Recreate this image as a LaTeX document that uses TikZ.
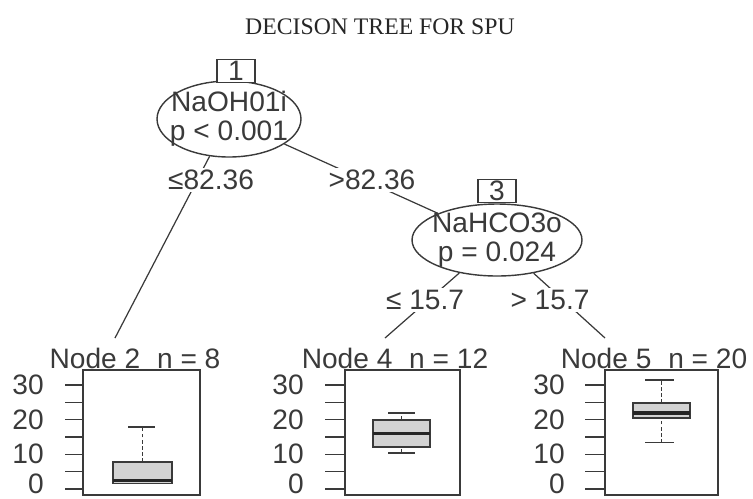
\documentclass[tikz,border=0pt]{standalone}
\usepackage{fontspec}
\setmainfont{Liberation Serif}
\setsansfont{Liberation Sans}
\usetikzlibrary{shapes.geometric}

\definecolor{ink}{HTML}{3A3A3A}
\definecolor{boxgrey}{HTML}{D3D3D3}
\newcommand{\plotfont}{\sffamily\fontsize{16}{16.5}\selectfont}

\tikzset{
  splitnode/.style={ellipse, draw=ink, line width=0.8pt, fill=white, inner sep=0pt},
  splitlab/.style={align=center, inner sep=0pt, text=ink, font=\plotfont},
  idbox/.style={draw=ink, line width=0.8pt, fill=white, minimum width=0.76cm, minimum height=0.46cm, inner sep=0pt, text=ink, font=\plotfont},
  branch/.style={draw=ink, line width=0.7pt},
  edgelab/.style={fill=white, inner sep=1pt, text=ink, font=\plotfont},
  termtitle/.style={inner sep=0pt, text=ink, font=\plotfont},
  ticklab/.style={anchor=east, inner sep=0pt, text=ink, font=\plotfont},
  panelbox/.style={draw=ink, line width=0.85pt},
  tickline/.style={draw=ink, line width=0.8pt},
  bxbody/.style={draw=ink, fill=boxgrey, line width=0.7pt},
  bxmedian/.style={draw=black!85, line width=1.8pt},
  bxwhisk/.style={draw=ink, line width=0.7pt, dash pattern=on 2pt off 1.5pt},
  bxcap/.style={draw=ink, line width=0.7pt}
}

\begin{document}
\begin{tikzpicture}[x=0.02cm,y=-0.02cm]
\useasboundingbox (0,0) rectangle (753,498);
\clip (0,0) rectangle (753,498);

\node[font=\rmfamily\fontsize{13.5}{13.5}\selectfont, text=black!85] (title) at (380,27) {DECISON TREE FOR SPU};

% inner nodes
\node[splitnode, minimum width=2.88cm, minimum height=1.52cm,
      label={[splitlab]center:{NaOH01i\\p < 0.001}}] (n1) at (229,119) {};
\node[idbox] (id1) at (236,71) {1};
\node[splitnode, minimum width=3.4cm, minimum height=1.44cm,
      label={[splitlab]center:{NaHCO3o\\p = 0.024}}] (n3) at (497,240) {};
\node[idbox] (id3) at (497,191) {3};

% tops of the terminal panels
\coordinate (top2) at (115,338);
\coordinate (top4) at (385,338);
\coordinate (top5) at (605,338);

\draw[branch] (n1) -- (top2);
\draw[branch] (n1) -- (n3);
\draw[branch] (n3) -- (top4);
\draw[branch] (n3) -- (top5);

\node[edgelab] (e2) at (211,180) {≤82.36};
\node[edgelab] (e3) at (372,180) {>82.36};
\node[edgelab] (e4) at (425,300) {≤ 15.7};
\node[edgelab] (e5) at (550,300) {> 15.7};

% Node 2
\node[termtitle] (t2) at (135,358) {Node 2\hspace{0.6em}n = 8};
\draw[panelbox] (83,370) rectangle (200,495);
\begin{scope}[shift={(0,489)}, y=0.0694cm]
\foreach \v in {0,5,...,30} \draw[tickline] (65,\v) -- (83,\v);
\foreach \v/\h in {0/1.4,10/10,20/20,30/30} \node[ticklab] (a2-\v) at (44,\h) {\v};
\draw[bxwhisk] (142.5,7.8) -- (142.5,17.9);
\draw[bxcap] (128,17.9) -- (155,17.9);
\draw[bxbody] (113,1.7) rectangle (172,7.8);
\draw[bxmedian] (113,2.4) -- (172,2.4);
\end{scope}

% Node 4
\node[termtitle] (t4) at (395,358) {Node 4\hspace{0.6em}n = 12};
\draw[panelbox] (345,370) rectangle (460,495);
\begin{scope}[shift={(0,489)}, y=0.0694cm]
\foreach \v in {0,5,...,30} \draw[tickline] (325,\v) -- (345,\v);
\foreach \v/\h in {0/1.4,10/10,20/20,30/30} \node[ticklab] (a4-\v) at (304,\h) {\v};
\draw[bxwhisk] (401.5,19.9) -- (401.5,21.9);
\draw[bxwhisk] (401.5,10.4) -- (401.5,12.1);
\draw[bxcap] (388,21.9) -- (415,21.9);
\draw[bxcap] (388,10.4) -- (415,10.4);
\draw[bxbody] (373,12.1) rectangle (430,19.9);
\draw[bxmedian] (373,16.1) -- (430,16.1);
\end{scope}

% Node 5
\node[termtitle] (t5) at (654,358) {Node 5\hspace{0.6em}n = 20};
\draw[panelbox] (605,370) rectangle (718,495);
\begin{scope}[shift={(0,489)}, y=0.0694cm]
\foreach \v in {0,5,...,30} \draw[tickline] (585,\v) -- (605,\v);
\foreach \v/\h in {0/1.4,10/10,20/20,30/30} \node[ticklab] (a5-\v) at (565,\h) {\v};
\draw[bxwhisk] (661.5,24.8) -- (661.5,31.4);
\draw[bxwhisk] (661.5,13.3) -- (661.5,20.5);
\draw[bxcap] (645,31.4) -- (674,31.4);
\draw[bxcap] (645,13.3) -- (674,13.3);
\draw[bxbody] (633,20.5) rectangle (690,24.8);
\draw[bxmedian] (633,21.9) -- (690,21.9);
\end{scope}
\end{tikzpicture}
\end{document}
